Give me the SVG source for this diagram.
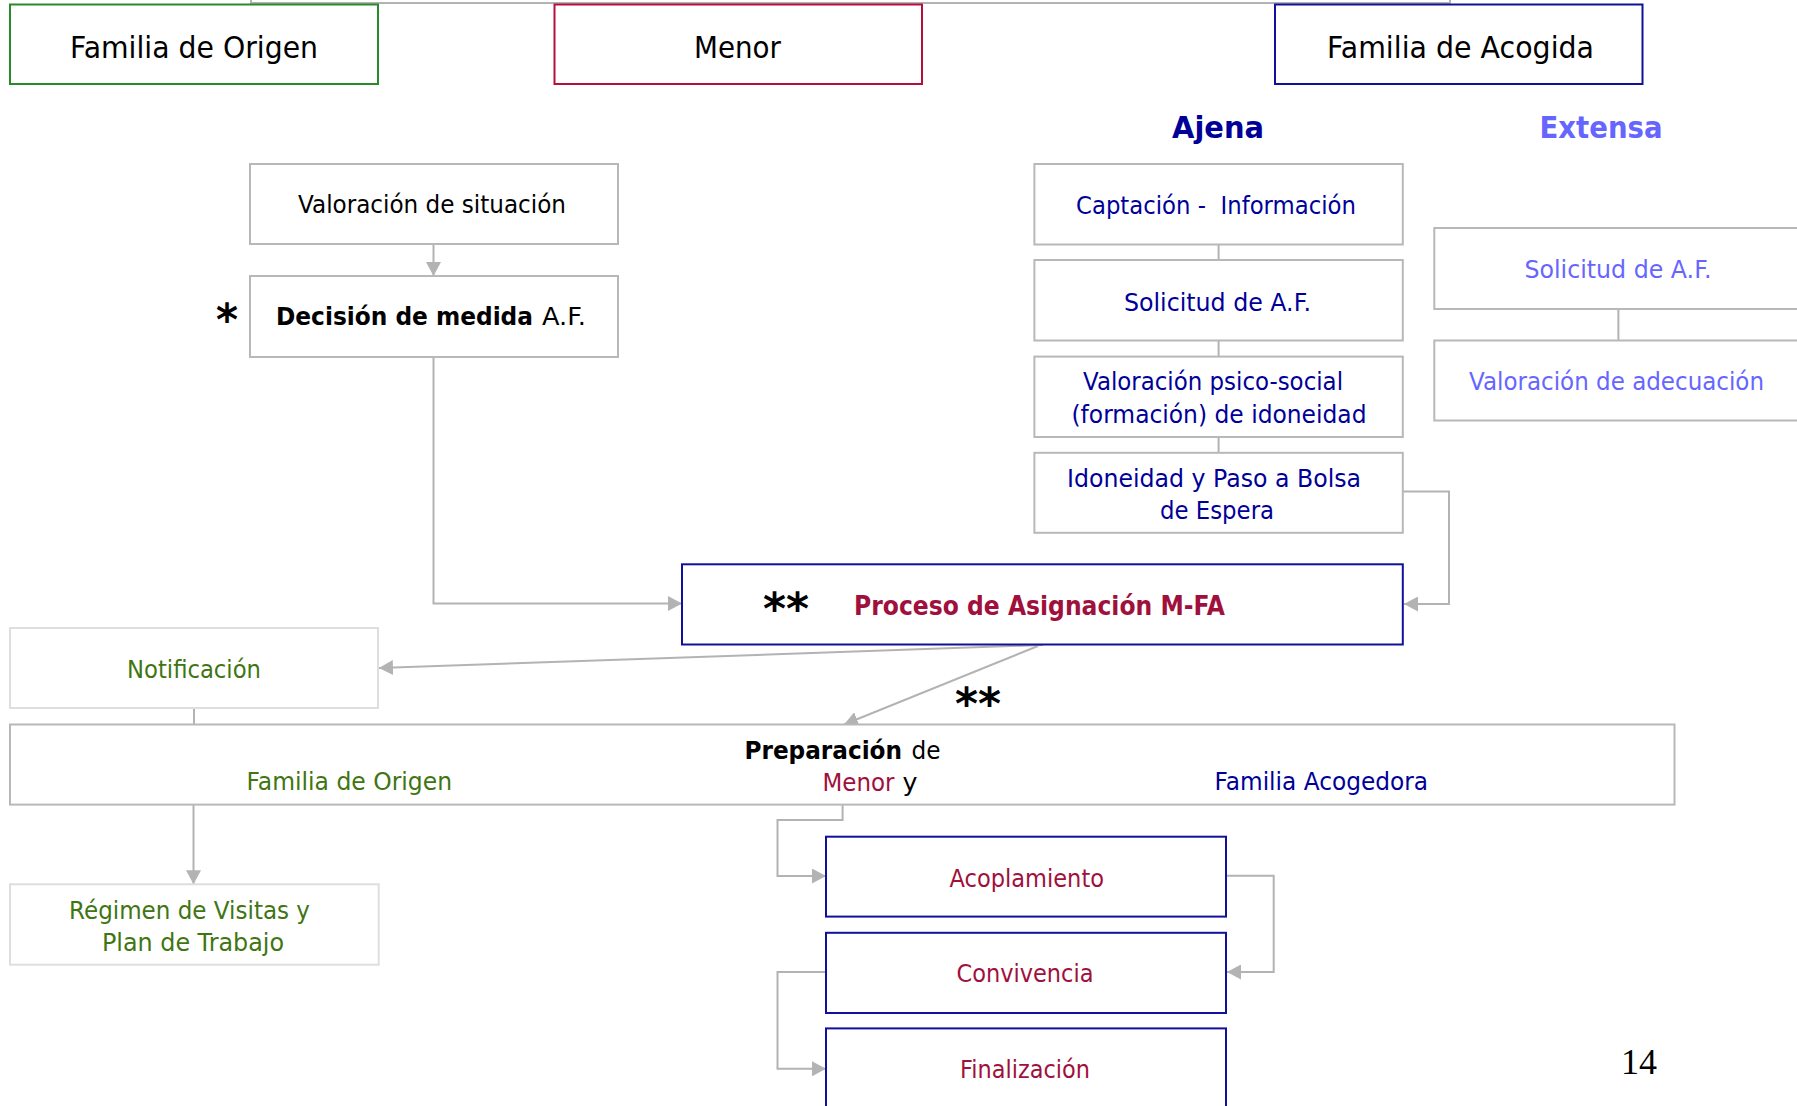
<svg xmlns="http://www.w3.org/2000/svg" width="1797" height="1106" viewBox="0 0 1797 1106">
<defs>
<style>
.s{font-family:"DejaVu Sans","Liberation Sans",sans-serif}
.serif{font-family:"Liberation Serif","Times New Roman",serif}
.b{fill:#fff;stroke:#b8b8b8;stroke-width:2}
.bl{fill:#fff;stroke:#dedede;stroke-width:2}
.bb{fill:#fff;stroke:#10109a;stroke-width:2}
.c{fill:none;stroke:#b3b3b3;stroke-width:2}
.t30{font-size:30px;fill:#000}
.t24{font-size:24px}
.blue{fill:#000099}
.lblue{fill:#6666ff}
.red{fill:#a0103c}
.green{fill:#3f7512}
.blk{fill:#000}
.bold{font-weight:bold}
</style>
<marker id="ah" markerUnits="userSpaceOnUse" markerWidth="14" markerHeight="15" refX="14" refY="7.5" orient="auto">
<path d="M0,0 L14,7.5 L0,15 z" fill="#b3b3b3"/>
</marker>
</defs>
<rect width="1797" height="1106" fill="#fff"/>

<g id="connectors">
<path class="c" d="M251,0 V3 H1450 V0" stroke="#dcdcdc"/>
<path class="c" d="M433.5,244 V276" marker-end="url(#ah)"/>
<path class="c" d="M433.5,357 V603.5 H682" marker-end="url(#ah)"/>
<path class="c" d="M1403,491.5 H1449 V604 H1404" marker-end="url(#ah)"/>
<path class="c" d="M1218.6,244.5 V260 M1218.6,340.5 V356.6 M1218.6,437 V452.8"/>
<path class="c" d="M1618.4,309 V340.5"/>
<path class="c" d="M1043,645 L379,668" marker-end="url(#ah)"/>
<path class="c" d="M1038,646 L844,724.5" stroke-width="1.3" marker-end="url(#ah)"/>
<path class="c" d="M194,708 V724.5"/>
<path class="c" d="M193.5,804.6 V884.3" marker-end="url(#ah)"/>
<path class="c" d="M842.6,804.6 V820 H777.5 V876 H826" marker-end="url(#ah)"/>
<path class="c" d="M1226,875.7 H1273.7 V972 H1227" marker-end="url(#ah)"/>
<path class="c" d="M826,972 H777.5 V1068.8 H826" marker-end="url(#ah)"/>
</g>

<g id="familia-origen">
<rect x="10" y="4.5" width="368" height="79.5" fill="#fff" stroke="#2a8a2a" stroke-width="2"/>
<text class="s t30" x="70" y="57.7" textLength="248" lengthAdjust="spacingAndGlyphs">Familia de Origen</text>
</g>
<g id="menor">
<rect x="554.5" y="4.5" width="367.5" height="79.5" fill="#fff" stroke="#b5103c" stroke-width="2"/>
<text class="s t30" x="694" y="57.7" textLength="87" lengthAdjust="spacingAndGlyphs">Menor</text>
</g>
<g id="familia-acogida">
<rect x="1275" y="4.5" width="367.5" height="79.5" fill="#fff" stroke="#10109a" stroke-width="2"/>
<text class="s t30" x="1327" y="57.9" textLength="267" lengthAdjust="spacingAndGlyphs">Familia de Acogida</text>
</g>

<g id="ajena-titulo">
<text class="s blue bold" font-size="30" x="1172" y="138.3" textLength="92" lengthAdjust="spacingAndGlyphs">Ajena</text>
</g>
<g id="extensa-titulo">
<text class="s lblue bold" font-size="30" x="1539.5" y="138.3" textLength="123" lengthAdjust="spacingAndGlyphs">Extensa</text>
</g>

<g id="valoracion-situacion">
<rect class="b" x="250" y="164" width="368" height="80"/>
<text class="s t24 blk" x="298" y="213.3" textLength="268" lengthAdjust="spacingAndGlyphs">Valoración de situación</text>
</g>
<g id="decision-medida">
<rect class="b" x="250" y="276" width="368" height="81"/>
<text class="s blk bold" font-size="44" x="216" y="335" textLength="22" lengthAdjust="spacingAndGlyphs">*</text>
<text class="s t24 blk bold" x="276" y="325" textLength="257" lengthAdjust="spacingAndGlyphs">Decisión de medida</text>
<text class="s t24 blk" x="542" y="325" textLength="44" lengthAdjust="spacingAndGlyphs">A.F.</text>
</g>

<g id="captacion">
<rect class="b" x="1034.4" y="164" width="368.4" height="80.5"/>
<text class="s t24 blue" x="1076" y="214" textLength="280" lengthAdjust="spacingAndGlyphs" xml:space="preserve">Captación -  Información</text>
</g>
<g id="solicitud-ajena">
<rect class="b" x="1034.4" y="260" width="368.4" height="80.5"/>
<text class="s t24 blue" x="1124" y="310.6" textLength="187" lengthAdjust="spacingAndGlyphs">Solicitud de A.F.</text>
</g>
<g id="valoracion-psico">
<rect class="b" x="1034.4" y="356.6" width="368.4" height="80.4"/>
<text class="s t24 blue" x="1083" y="389.6" textLength="260" lengthAdjust="spacingAndGlyphs">Valoración psico-social</text>
<text class="s t24 blue" x="1071.5" y="423" textLength="295" lengthAdjust="spacingAndGlyphs">(formación) de idoneidad</text>
</g>
<g id="idoneidad">
<rect class="b" x="1034.4" y="452.8" width="368.4" height="80"/>
<text class="s t24 blue" x="1067" y="487.2" textLength="294" lengthAdjust="spacingAndGlyphs">Idoneidad y Paso a Bolsa</text>
<text class="s t24 blue" x="1160" y="518.8" textLength="114" lengthAdjust="spacingAndGlyphs">de Espera</text>
</g>

<g id="solicitud-extensa">
<rect class="b" x="1434.3" y="228" width="380" height="81"/>
<text class="s t24 lblue" x="1524.5" y="278" textLength="187" lengthAdjust="spacingAndGlyphs">Solicitud de A.F.</text>
</g>
<g id="valoracion-adecuacion">
<rect class="b" x="1434.3" y="340.5" width="380" height="80"/>
<text class="s t24 lblue" x="1469" y="389.6" textLength="295" lengthAdjust="spacingAndGlyphs">Valoración de adecuación</text>
</g>

<g id="proceso-asignacion">
<rect class="bb" x="682" y="564.3" width="720.8" height="80.2"/>
<text class="s blk bold" font-size="44" x="763" y="624" textLength="46" lengthAdjust="spacingAndGlyphs">**</text>
<text class="s red bold" font-size="26" x="854" y="615" textLength="371" lengthAdjust="spacingAndGlyphs">Proceso de Asignación M-FA</text>
</g>

<g id="notificacion">
<rect class="bl" x="10" y="628" width="368" height="80"/>
<text class="s t24 green" x="127" y="678.3" textLength="134" lengthAdjust="spacingAndGlyphs">Notificación</text>
</g>

<g id="asterisco-preparacion">
<text class="s blk bold" font-size="44" x="955" y="719" textLength="46" lengthAdjust="spacingAndGlyphs">**</text>
</g>

<g id="preparacion">
<rect class="b" x="10" y="724.5" width="1664.5" height="80.1"/>
<text class="s t24 blk bold" x="744.5" y="759" textLength="157.5" lengthAdjust="spacingAndGlyphs">Preparación</text>
<text class="s t24 blk" x="911.5" y="759" textLength="29" lengthAdjust="spacingAndGlyphs">de</text>
<text class="s t24 green" x="246.5" y="790" textLength="205.5" lengthAdjust="spacingAndGlyphs">Familia de Origen</text>
<text class="s t24 red" x="822.5" y="790.5" textLength="72" lengthAdjust="spacingAndGlyphs">Menor</text>
<text class="s t24 blk" x="902.5" y="790.5" textLength="15" lengthAdjust="spacingAndGlyphs">y</text>
<text class="s t24 blue" x="1214.5" y="789.5" textLength="213.5" lengthAdjust="spacingAndGlyphs">Familia Acogedora</text>
</g>

<g id="regimen-visitas">
<rect class="bl" x="10" y="884.3" width="368.7" height="80.4"/>
<text class="s t24 green" x="69" y="919" textLength="241" lengthAdjust="spacingAndGlyphs">Régimen de Visitas y</text>
<text class="s t24 green" x="102" y="950.7" textLength="182" lengthAdjust="spacingAndGlyphs">Plan de Trabajo</text>
</g>

<g id="acoplamiento">
<rect class="bb" x="826" y="836.7" width="400" height="79.9"/>
<text class="s t24 red" x="949.5" y="886.6" textLength="154.5" lengthAdjust="spacingAndGlyphs">Acoplamiento</text>
</g>
<g id="convivencia">
<rect class="bb" x="826" y="932.8" width="400" height="80.2"/>
<text class="s t24 red" x="956.5" y="982" textLength="137" lengthAdjust="spacingAndGlyphs">Convivencia</text>
</g>
<g id="finalizacion">
<rect class="bb" x="826" y="1028.4" width="400" height="90"/>
<text class="s t24 red" x="960" y="1078" textLength="130" lengthAdjust="spacingAndGlyphs">Finalización</text>
</g>

<g id="pagina">
<text class="serif" x="1621" y="1074.3" font-size="36" fill="#000">14</text>
</g>
</svg>
